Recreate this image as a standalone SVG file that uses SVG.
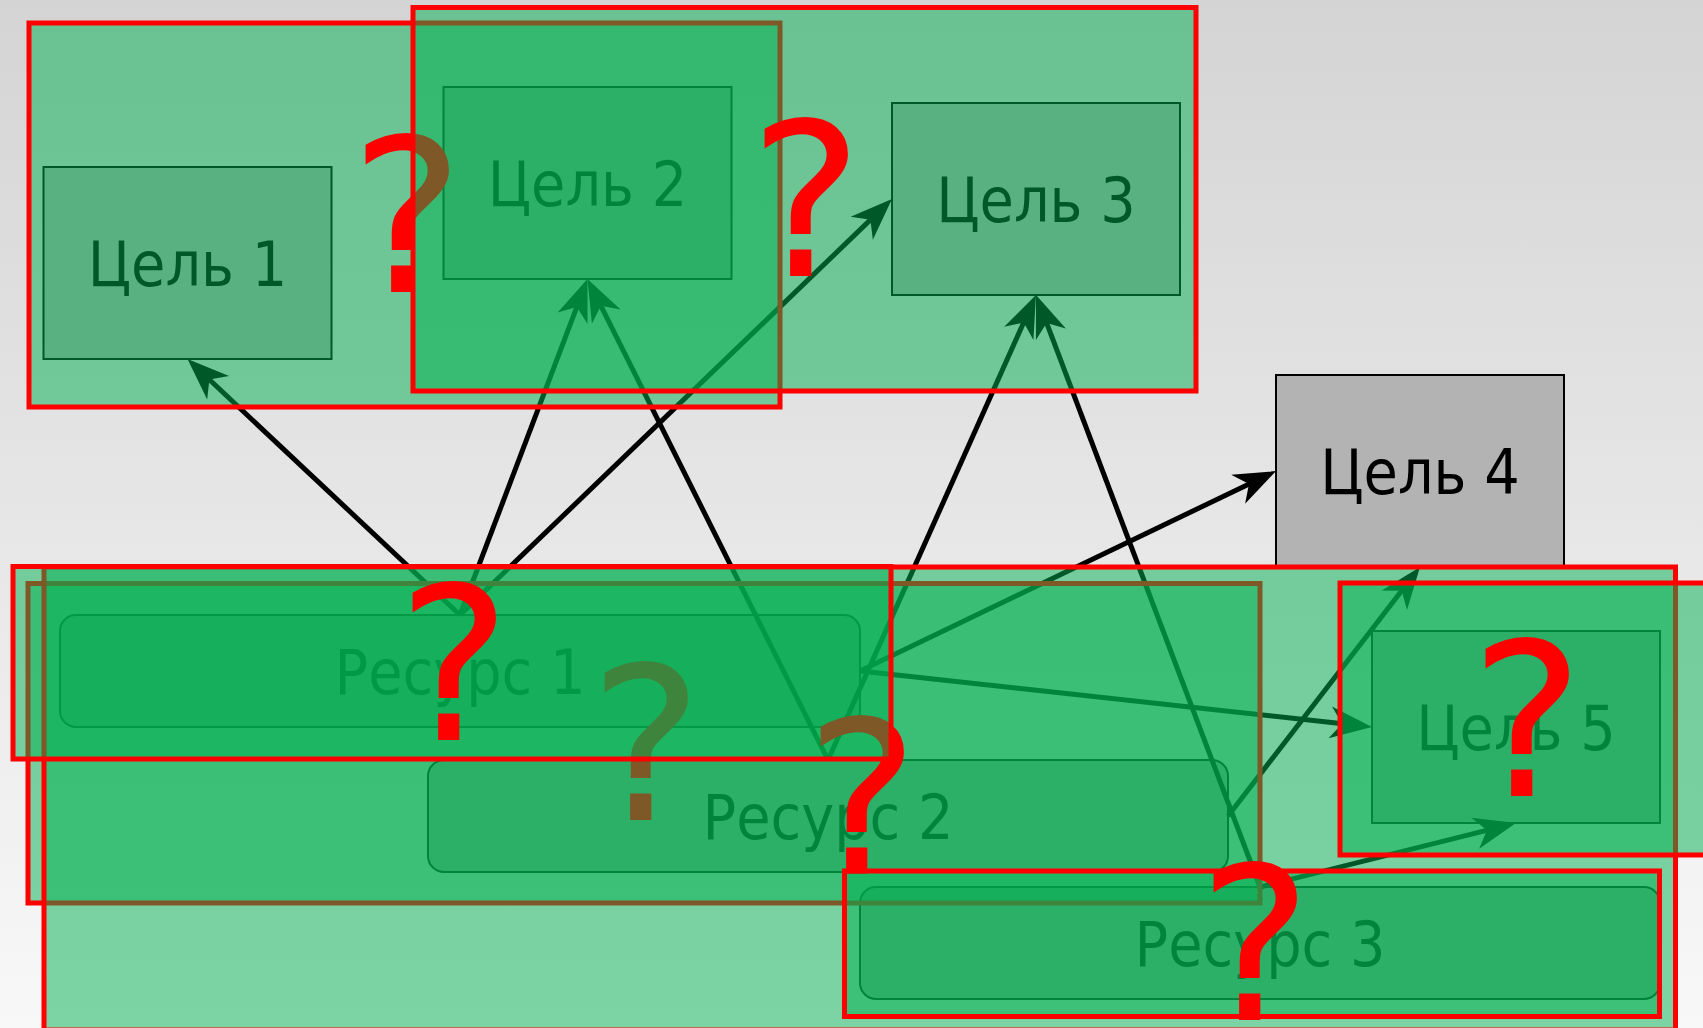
<svg xmlns="http://www.w3.org/2000/svg" width="1703" height="1028" viewBox="0 0 1703 1028">
<defs>
<linearGradient id="bg" x1="0" y1="0" x2="0" y2="1">
<stop offset="0" stop-color="#d4d4d4"/>
<stop offset="1" stop-color="#f8f8f8"/>
</linearGradient>
<marker id="arr" markerUnits="userSpaceOnUse" viewBox="-25 -18 47 36" markerWidth="47" markerHeight="36" refX="0" refY="0" orient="auto">
<path d="M20,0 L-22,-16 L-10,0 L-22,16 Z" fill="#000"/>
</marker>
<style>
.edge{stroke:#000;stroke-width:5;fill:none;marker-end:url(#arr)}
.node rect{fill:#b3b3b3;stroke:#000;stroke-width:2}
.node text{font-family:"DejaVu Sans Condensed","DejaVu Sans",sans-serif;font-stretch:condensed;font-size:62px;text-anchor:middle;fill:#000}
.grp rect{fill:#00b050;fill-opacity:0.5;stroke:#ff0000;stroke-width:5}
.grp text{font-family:"DejaVu Sans",sans-serif;font-size:214px;text-anchor:middle;fill:#ff0000}
</style>
</defs>
<rect x="0" y="0" width="1703" height="1028" fill="url(#bg)"/>
<g id="goal1" class="node"><rect x="43.5" y="167" width="288" height="192"/><text x="187.5" y="285.5">Цель 1</text></g>
<g id="goal2" class="node"><rect x="443.5" y="87" width="288" height="192"/><text x="587.5" y="205.5">Цель 2</text></g>
<g id="goal3" class="node"><rect x="892" y="103" width="288" height="192"/><text x="1036" y="221.5">Цель 3</text></g>
<g id="goal4" class="node"><rect x="1276" y="375" width="288" height="192"/><text x="1420" y="493.5">Цель 4</text></g>
<g id="goal5" class="node"><rect x="1372" y="631" width="288" height="192"/><text x="1516" y="749.5">Цель 5</text></g>
<g id="res1" class="node"><rect x="60" y="615" width="800" height="112" rx="16"/><text x="460" y="693.5">Ресурс 1</text></g>
<g id="res2" class="node"><rect x="428" y="760" width="800" height="112" rx="16"/><text x="828" y="838.5">Ресурс 2</text></g>
<g id="res3" class="node"><rect x="860" y="887" width="800" height="112" rx="16"/><text x="1260" y="965.5">Ресурс 3</text></g>
<g id="connectors">
<path class="edge" d="M460,615 L202.1,372.7"/>
<path class="edge" d="M460,615 L580.4,297.7"/>
<path class="edge" d="M460,615 L877.6,212.9"/>
<path class="edge" d="M860,671 L1258,479.7"/>
<path class="edge" d="M860,671 L1352.1,724.8"/>
<path class="edge" d="M828,760 L596.4,296.9"/>
<path class="edge" d="M828,760 L1027.8,313.3"/>
<path class="edge" d="M1228,816 L1407.8,582.8"/>
<path class="edge" d="M1260,887 L1043.1,313.7"/>
<path class="edge" d="M1260,887 L1496.6,827.9"/>
</g>
<g id="groupA" class="grp"><rect x="29" y="23" width="751" height="384"/><text x="407" y="292">?</text></g>
<g id="groupB" class="grp"><rect x="413" y="7.5" width="783" height="383.5"/><text x="806" y="276">?</text></g>
<g id="groupD" class="grp"><rect x="28" y="583.5" width="1232" height="319.5"/><text x="646" y="820">?</text></g>
<g id="groupE" class="grp"><rect x="44" y="567" width="1631.5" height="463"/><text x="862" y="874">?</text></g>
<g id="groupC" class="grp"><rect x="13" y="566.5" width="878" height="192.5"/><text x="454" y="740">?</text></g>
<g id="groupF" class="grp"><rect x="1340" y="583" width="372" height="272"/><text x="1527" y="796">?</text></g>
<g id="groupG" class="grp"><rect x="844.5" y="871" width="815" height="145.5"/><text x="1255" y="1020">?</text></g>
</svg>
